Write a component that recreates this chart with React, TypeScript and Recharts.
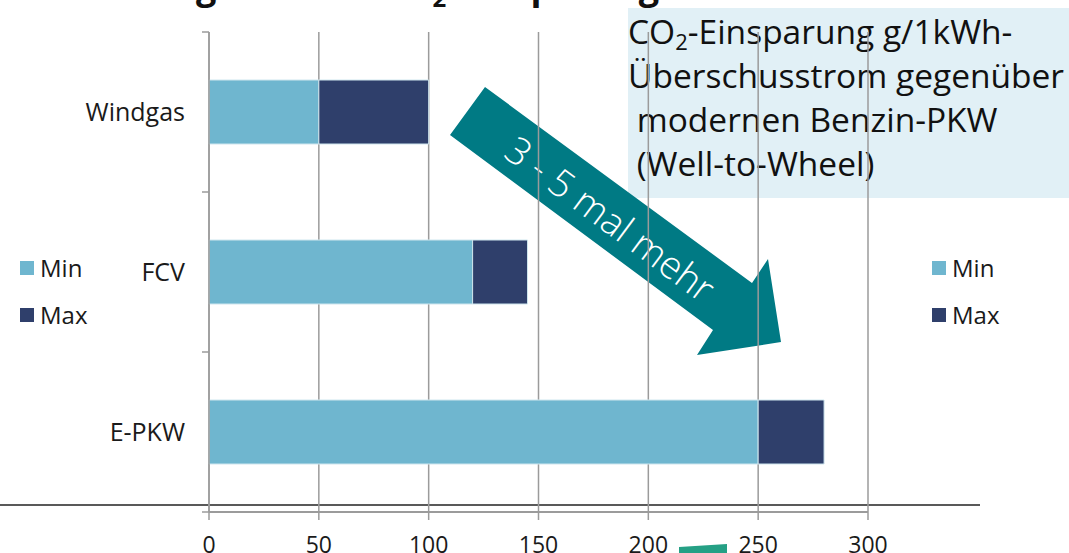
import { Bar, BarChart, CartesianGrid, Legend, XAxis, YAxis } from "recharts";

const categories = ["Windgas", "FCV", "E-PKW"];
const minValues = [50, 120, 250];
const maxValues = [100, 145, 280];
const xTicks = [0, 50, 100, 150, 200, 250, 300];
const seriesOrder = ["Min", "Max"];

// stacked: the dark segment is the part between min and max
const data = categories.map((name, i) => ({
  name,
  Min: minValues[i],
  Max: maxValues[i] - minValues[i],
}));

const FONT = '"Open Sans", "Noto Sans", sans-serif';
const MIN_COLOR = "#6fb6cf";
const MAX_COLOR = "#2f3f6b";
const GRID = "#9b9b9b";
const TEAL = "#007a84";

function CategoryTick(props: any) {
  const { x, y, payload } = props;
  const half = payload?.offset || 80;
  const axisX = x + 24;
  const last = payload?.value === categories[categories.length - 1];
  return (
    <g>
      <line x1={axisX - 7} x2={axisX} y1={y - half} y2={y - half} stroke={GRID} strokeWidth={1.5} />
      {last && <line x1={axisX - 7} x2={axisX} y1={y + half} y2={y + half} stroke={GRID} strokeWidth={1.5} />}
      <text x={x} y={y} dy="0.35em" textAnchor="end" fontSize={25} fill="#1a1a1a" fontFamily={FONT}>
        {payload.value}
      </text>
    </g>
  );
}

function TwinLegend({ payload }: any) {
  const items = [...(payload || [])].sort(
    (a: any, b: any) => seriesOrder.indexOf(a.value) - seriesOrder.indexOf(b.value)
  );
  const block = (left: number) => (
    <div style={{ position: "absolute", left, top: 244 }}>
      {items.map((it: any) => (
        <div key={it.value} style={{ display: "flex", alignItems: "center", height: 47, fontSize: 24, color: "#1a1a1a" }}>
          <span style={{ width: 14, height: 14, background: it.color, marginRight: 6, display: "inline-block" }} />
          {it.value}
        </div>
      ))}
    </div>
  );
  return (
    <div style={{ position: "relative", fontFamily: FONT }}>
      {block(20)}
      {block(932)}
    </div>
  );
}

export default function App() {
  return (
    <div style={{ position: "absolute", left: 0, top: 0, width: 1069, height: 553, overflow: "hidden", background: "#fff", fontFamily: FONT }}>
      <svg width={1069} height={553} style={{ position: "absolute", left: 0, top: 0 }}>
        <text x={135} y={-1} fontSize={36} fontWeight="bold" fill="#111" fontFamily={FONT}>
          Vergleich der CO<tspan dy={8} fontSize={24}>2</tspan>
          <tspan dy={-8}>-Einsparung</tspan>
        </text>
        <line x1={0} x2={980} y1={505} y2={505} stroke="#222" strokeWidth={1.5} />
        <rect x={628} y={8} width={441} height={190} fill="#e1f0f6" />
        <polygon points="485,87 752,283 768,259 781,342 697,355 713,330 450,135" fill={TEAL} />
        <text
          x={611}
          y={218}
          fontSize={38}
          fontWeight={300}
          fill="#fff"
          textAnchor="middle"
          dominantBaseline="central"
          fontFamily={FONT}
          transform="rotate(36.5 611 218)"
        >
          3 - 5 mal mehr
        </text>
        <polygon points="679,547 727,544 727,553 679,553" fill="#25a085" />
      </svg>
      <div style={{ position: "absolute", left: 628, top: 9, fontSize: 33.5, lineHeight: "44px", color: "#111", whiteSpace: "pre" }}>
        <div>
          CO<sub style={{ fontSize: 22, verticalAlign: "-6px", lineHeight: 0 }}>2</sub>-Einsparung g/1kWh-
        </div>
        <div>Überschusstrom gegenüber</div>
        <div> modernen Benzin-PKW</div>
        <div> (Well-to-Wheel)</div>
      </div>
      <BarChart
        width={1069}
        height={553}
        layout="vertical"
        data={data}
        margin={{ top: 32, right: 201, bottom: 0, left: 0 }}
        barSize={64}
        style={{ position: "absolute", left: 0, top: 0 }}
      >
        <CartesianGrid horizontal={false} stroke={GRID} strokeWidth={1.5} />
        <XAxis
          type="number"
          domain={[0, 300]}
          ticks={xTicks}
          interval={0}
          height={41}
          tickSize={8}
          tickMargin={17}
          axisLine={{ stroke: GRID, strokeWidth: 2 }}
          tickLine={{ stroke: GRID, strokeWidth: 1.5 }}
          tick={{ fontSize: 23, fill: "#1a1a1a", fontFamily: FONT }}
        />
        <YAxis
          type="category"
          dataKey="name"
          width={209}
          tickSize={0}
          tickMargin={24}
          axisLine={{ stroke: GRID, strokeWidth: 1.5 }}
          tick={<CategoryTick />}
        />
        <Legend content={<TwinLegend />} wrapperStyle={{ left: 0, top: 0, width: 1069, height: 0 }} />
        <Bar dataKey="Min" stackId="a" fill={MIN_COLOR} stroke="#cfe6ee" strokeWidth={1} isAnimationActive={false} />
        <Bar dataKey="Max" stackId="a" fill={MAX_COLOR} stroke="#cfe6ee" strokeWidth={1} isAnimationActive={false} />
      </BarChart>
    </div>
  );
}
